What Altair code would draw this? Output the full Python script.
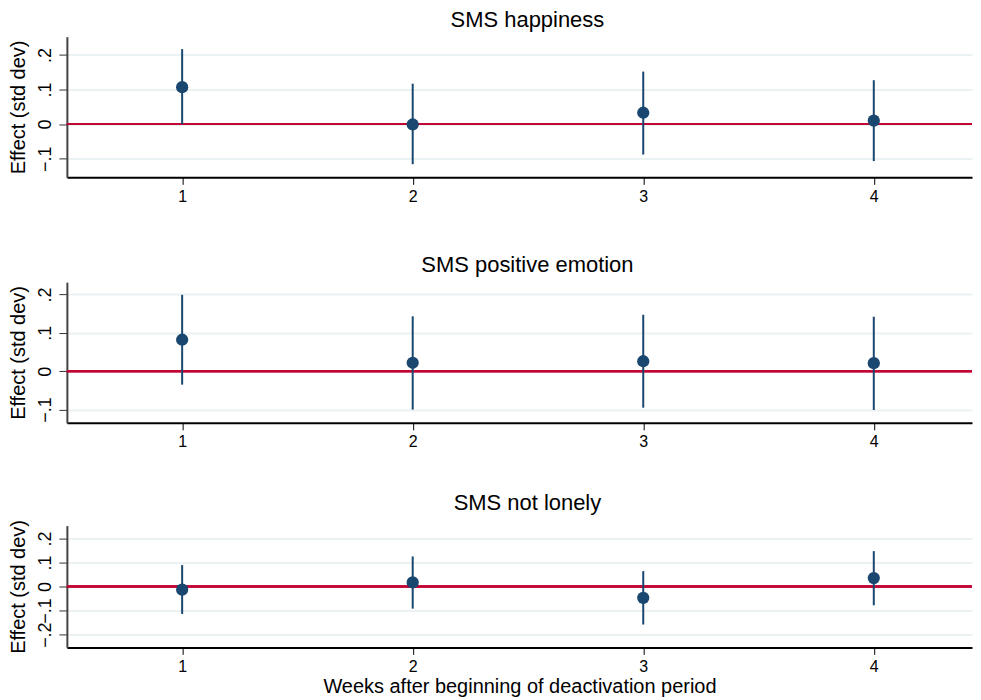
import altair as alt
import pandas as pd

weeks = [1, 2, 3, 4]

titles = ["SMS happiness", "SMS positive emotion", "SMS not lonely"]

happ_est = [0.107, -0.001, 0.033, 0.010]
happ_lo = [0.000, -0.116, -0.088, -0.107]
happ_hi = [0.217, 0.117, 0.152, 0.127]

pos_est = [0.082, 0.022, 0.026, 0.021]
pos_lo = [-0.035, -0.100, -0.095, -0.101]
pos_hi = [0.199, 0.143, 0.147, 0.142]

lon_est = [-0.013, 0.017, -0.047, 0.035]
lon_lo = [-0.114, -0.092, -0.158, -0.078]
lon_hi = [0.089, 0.125, 0.064, 0.147]

y_domains = [[-0.154, 0.253], [-0.1345, 0.232], [-0.253, 0.253]]
y_ticks = [[-0.1, 0.0, 0.1, 0.2], [-0.1, 0.0, 0.1, 0.2], [-0.2, -0.1, 0.0, 0.1, 0.2]]
heights = [141, 141, 122]

FONT = "Liberation Sans"
NAVY = "#1a476f"
RED = "#c10534"
GRID = "#eaf2f3"

series = [
    (happ_est, happ_lo, happ_hi),
    (pos_est, pos_lo, pos_hi),
    (lon_est, lon_lo, lon_hi),
]

label_expr = "replace(format(datum.value, '.1~f'), '0.', '.')"


def panel(i):
    est, lo, hi = series[i]
    df = pd.DataFrame({"week": weeks, "est": est, "lo": lo, "hi": hi})
    last = i == 2
    xaxis = alt.Axis(
        values=weeks,
        grid=False,
        labelFontSize=16,
        labelFont=FONT,
        labelColor="#000",
        labelPadding=4,
        tickSize=7,
        tickColor="#000",
        tickWidth=1,
        domainColor="#000",
        domainWidth=2,
        title="Weeks after beginning of deactivation period" if last else None,
        titleFontSize=20,
        titleFont=FONT,
        titleFontWeight="normal",
        titleColor="#000",
        titlePadding=2,
    )
    yaxis = alt.Axis(
        values=y_ticks[i],
        labelExpr=label_expr,
        labelOverlap=False,
        grid=True,
        gridColor=GRID,
        gridWidth=2,
        labelFontSize=18,
        labelFont=FONT,
        labelColor="#000",
        labelAngle=270,
        labelAlign="center",
        labelBaseline="bottom",
        labelPadding=4,
        tickSize=8,
        tickColor="#333",
        tickWidth=1,
        domainColor="#444",
        domainWidth=2,
        title="Effect (std dev)",
        titleFontSize=20,
        titleFont=FONT,
        titleFontWeight="normal",
        titleColor="#000",
        titlePadding=8,
    )
    xs = alt.Scale(domain=[0.5, 4.426], nice=False, zero=False)
    ys = alt.Scale(domain=y_domains[i], nice=False, zero=False)
    base = alt.Chart(df)
    zero = base.mark_rule(color=RED, strokeWidth=2).encode(y=alt.datum(0, scale=ys, axis=yaxis))
    ci = base.mark_rule(color=NAVY, strokeWidth=2).encode(
        x=alt.X("week:Q", scale=xs, axis=xaxis),
        y=alt.Y("lo:Q", scale=ys, axis=yaxis),
        y2="hi:Q",
    )
    pts = base.mark_circle(color=NAVY, size=150, opacity=1).encode(
        x=alt.X("week:Q", scale=xs, axis=xaxis),
        y=alt.Y("est:Q", scale=ys, axis=yaxis),
    )
    return alt.layer(zero, ci, pts).properties(
        width=907,
        height=heights[i],
        title=alt.TitleParams(
            titles[i], fontSize=22, font=FONT, fontWeight="normal",
            color="#000", anchor="middle", offset=5, dx=8,
        ),
    )


top_two = alt.vconcat(panel(0), panel(1), spacing=50)
chart = alt.vconcat(top_two, panel(2), spacing=41).properties(
    padding=0, background="white"
).configure_view(stroke=None)

chart.save("out.html", embed_options={"renderer": "svg", "actions": False})
